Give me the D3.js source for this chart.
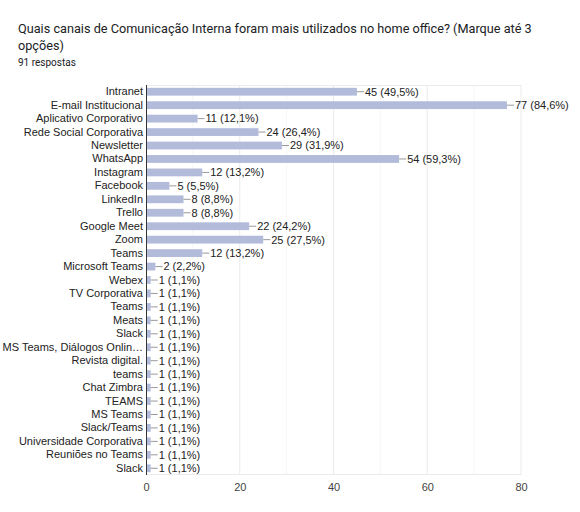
<!DOCTYPE html>
<html>
<head>
<meta charset="utf-8">
<script src="https://cdn.jsdelivr.net/npm/d3@7"></script>
<style>
  body { margin: 0; background: #fff; }
</style>
</head>
<body>
<div id="chart"></div>
<script>
// Answers as listed in the form summary (top to bottom)
const categories = [
  'Intranet', 'E-mail Institucional', 'Aplicativo Corporativo', 'Rede Social Corporativa',
  'Newsletter', 'WhatsApp', 'Instagram', 'Facebook', 'LinkedIn', 'Trello',
  'Google Meet', 'Zoom', 'Teams', 'Microsoft Teams', 'Webex', 'TV Corporativa',
  'Teams', 'Meats', 'Slack', 'MS Teams, Diálogos Onlin…', 'Revista digital.', 'teams',
  'Chat Zimbra', 'TEAMS', 'MS Teams', 'Slack/Teams', 'Universidade Corporativa',
  'Reuniões no Teams', 'Slack'
];
const counts = [45, 77, 11, 24, 29, 54, 12, 5, 8, 8, 22, 25, 12, 2, 1, 1, 1, 1, 1, 1, 1, 1, 1, 1, 1, 1, 1, 1, 1];
const percents = ['49,5', '84,6', '12,1', '26,4', '31,9', '59,3', '13,2', '5,5', '8,8', '8,8',
  '24,2', '27,5', '13,2', '2,2', '1,1', '1,1', '1,1', '1,1', '1,1', '1,1', '1,1', '1,1',
  '1,1', '1,1', '1,1', '1,1', '1,1', '1,1', '1,1'];
const xTicks = [0, 20, 40, 60, 80];
const xMinor = [10, 30, 50, 70];

const width = 580, height = 512;
const margin = { top: 85, right: 59, bottom: 37, left: 146 };
const chartWidth = width - margin.left - margin.right;
const chartHeight = height - margin.top - margin.bottom;

const svg = d3.select('#chart')
  .append('svg')
  .attr('width', width)
  .attr('height', height);

// Title
const titleFont = 'Roboto, Arial, sans-serif';
svg.append('text')
  .attr('x', 18).attr('y', 33)
  .style('font-family', titleFont).style('font-size', '12.7px').attr('fill', '#202124')
  .text('Quais canais de Comunicação Interna foram mais utilizados no home office? (Marque até 3');
svg.append('text')
  .attr('x', 18).attr('y', 50)
  .style('font-family', titleFont).style('font-size', '12.7px').attr('fill', '#202124')
  .text('opções)');
svg.append('text')
  .attr('x', 18).attr('y', 66)
  .style('font-family', titleFont).style('font-size', '10px').attr('fill', '#202124')
  .text('91 respostas');

const g = svg.append('g')
  .attr('transform', `translate(${margin.left},${margin.top})`);

const x = d3.scaleLinear().domain([0, 80]).range([0, chartWidth]);
const y = d3.scaleBand()
  .domain(d3.range(categories.length))
  .range([0, chartHeight])
  .paddingInner(0.42)
  .paddingOuter(0.21);

// Grid
g.selectAll('.minor')
  .data(xMinor)
  .enter().append('line')
  .attr('x1', d => x(d)).attr('x2', d => x(d))
  .attr('y1', 0).attr('y2', chartHeight)
  .attr('stroke', '#f6f6f6');
g.selectAll('.major')
  .data(xTicks.slice(1))
  .enter().append('line')
  .attr('x1', d => x(d)).attr('x2', d => x(d))
  .attr('y1', 0).attr('y2', chartHeight)
  .attr('stroke', '#ebebeb');
g.append('line')
  .attr('x1', 0).attr('x2', chartWidth).attr('y1', 0.5).attr('y2', 0.5)
  .attr('stroke', '#ebebeb');
g.append('line')
  .attr('x1', 0).attr('x2', chartWidth).attr('y1', chartHeight - 0.5).attr('y2', chartHeight - 0.5)
  .attr('stroke', '#ebebeb');

// X axis labels
const xAxis = g.append('g')
  .attr('transform', `translate(0,${chartHeight})`)
  .call(d3.axisBottom(x).tickValues(xTicks).tickSize(0).tickPadding(8));
xAxis.select('.domain').remove();
xAxis.selectAll('text')
  .style('font-family', 'Arial, "Liberation Sans", sans-serif')
  .style('font-size', '11px')
  .attr('fill', '#444');

// Bars
g.selectAll('.bar')
  .data(counts)
  .enter().append('rect')
  .attr('x', 0)
  .attr('y', (d, i) => y(i))
  .attr('width', d => x(d))
  .attr('height', y.bandwidth())
  .attr('fill', '#b3bbdb');

// Category labels
const yAxis = g.append('g')
  .call(d3.axisLeft(y).tickFormat(i => categories[i]).tickSize(0).tickPadding(3));
yAxis.select('.domain').remove();
yAxis.selectAll('text')
  .style('font-family', 'Arial, "Liberation Sans", sans-serif')
  .style('font-size', '11px')
  .attr('fill', '#222');

// Left axis line
g.append('line')
  .attr('x1', 0.5).attr('x2', 0.5)
  .attr('y1', 0).attr('y2', chartHeight)
  .attr('stroke', '#333');

// Leader lines and value labels
g.selectAll('.leader')
  .data(counts)
  .enter().append('line')
  .attr('x1', d => x(d)).attr('x2', d => x(d) + 7)
  .attr('y1', (d, i) => y(i) + y.bandwidth() / 2)
  .attr('y2', (d, i) => y(i) + y.bandwidth() / 2)
  .attr('stroke', '#999');

g.selectAll('.value')
  .data(counts)
  .enter().append('text')
  .attr('x', d => x(d) + 8)
  .attr('y', (d, i) => y(i) + y.bandwidth() / 2)
  .attr('dy', '0.35em')
  .style('font-family', 'Arial, "Liberation Sans", sans-serif')
  .style('font-size', '11px')
  .attr('fill', '#222')
  .text((d, i) => `${d} (${percents[i]}%)`);
</script>
</body>
</html>
